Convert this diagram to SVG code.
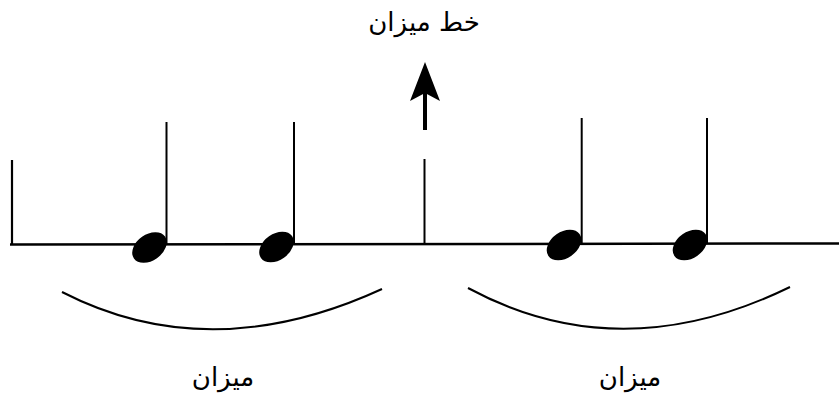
<svg xmlns="http://www.w3.org/2000/svg" width="839" height="398" viewBox="0 0 839 398">
<style>
.ln{stroke:#000;fill:none;stroke-linecap:butt}
.head{fill:#000}
.lbl{font-family:"DejaVu Sans","Noto Sans",sans-serif;font-size:26px;fill:#000;text-anchor:middle}
</style>
<rect width="839" height="398" fill="#fff"/>
<g id="staff">
<line class="ln" x1="10" y1="244.5" x2="839" y2="243.5" stroke-width="2.5"/>
<line class="ln" x1="12" y1="160" x2="12" y2="245" stroke-width="2.2"/>
</g>
<g id="barline">
<line class="ln" x1="424.5" y1="159" x2="424.5" y2="245" stroke-width="2"/>
</g>
<g id="note1">
<line class="ln" x1="166.5" y1="122" x2="166.5" y2="245" stroke-width="2"/>
<ellipse class="head" cx="149.5" cy="247.5" rx="19" ry="13" transform="rotate(-35 149.5 247.5)"/>
</g>
<g id="note2">
<line class="ln" x1="294" y1="122" x2="294" y2="245" stroke-width="2"/>
<ellipse class="head" cx="276.5" cy="247" rx="19" ry="13" transform="rotate(-35 276.5 247)"/>
</g>
<g id="note3">
<line class="ln" x1="581.7" y1="118" x2="581.7" y2="244" stroke-width="2"/>
<ellipse class="head" cx="564" cy="245" rx="19" ry="13" transform="rotate(-35 564 245)"/>
</g>
<g id="note4">
<line class="ln" x1="707" y1="118" x2="707" y2="244" stroke-width="2"/>
<ellipse class="head" cx="690" cy="245" rx="19" ry="13" transform="rotate(-35 690 245)"/>
</g>
<g id="connectors">
<line class="ln" x1="425" y1="130" x2="425" y2="92" stroke-width="4"/>
<path class="head" d="M425,62 L440,101 L425,93 L410,101 Z"/>
<path class="ln" d="M62,292 Q210,368 382,289" stroke-width="2"/>
<path class="ln" d="M468,288 Q620,370 790,287" stroke-width="2"/>
</g>
<g id="title">
<text class="lbl" x="424" y="31" direction="rtl">خط میزان</text>
</g>
<g id="label1">
<text class="lbl" x="223" y="386" direction="rtl">میزان</text>
</g>
<g id="label2">
<text class="lbl" x="630" y="386" direction="rtl">میزان</text>
</g>
</svg>
